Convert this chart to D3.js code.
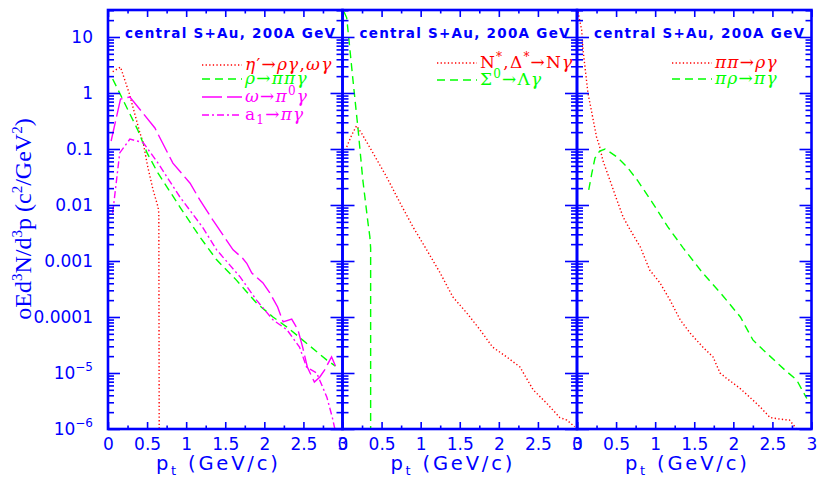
<!DOCTYPE html>
<html><head><meta charset="utf-8">
<script src="https://cdn.jsdelivr.net/npm/d3@7"></script>
<style>body{margin:0;background:#fff}svg{display:block}</style>
</head><body>
<svg id="c" width="817" height="479"></svg>
<script>
// ---------------- data ----------------
const xTickValues = [0, 0.5, 1, 1.5, 2, 2.5, 3];
const xTickLabels = ["0", "0.5", "1", "1.5", "2", "2.5", "3"];
const yTickValues = [10, 1, 0.1, 0.01, 0.001, 0.0001, 1e-5, 1e-6];
const yTickLabels = ["10", "1", "0.1", "0.01", "0.001", "0.0001", "10^-5", "10^-6"];
const panelTitle = "central S+Au, 200A GeV";

// panel 1
const etaPt  = [0.06, 0.16, 0.27, 0.41, 0.45, 0.51, 0.575, 0.64, 0.65, 0.655];
const etaVal = [2.4, 2.9, 1.0, 0.19, 0.13, 0.047, 0.019, 0.0092, 0.0072, 1e-6];
const rhoPt  = [0.06, 0.38, 0.5, 0.64, 0.92, 1.175, 1.39, 1.64, 1.90, 2.11, 2.29, 2.54, 2.80, 2.91];
const rhoVal = [1.78, 0.22, 0.085, 0.037, 0.0092, 0.0027, 0.00105, 0.00046, 0.000178, 1.0e-4, 6.6e-5, 3.4e-5, 1.7e-5, 1.33e-5];
const omgPt  = [0.04, 0.16, 0.28, 0.6, 0.83, 1.05, 1.175, 1.34, 1.60, 1.72, 1.775, 1.84, 1.98, 2.07, 2.17, 2.24, 2.35, 2.43, 2.49, 2.55, 2.64, 2.71, 2.77, 2.86, 2.91];
const omgVal = [0.139, 0.78, 0.85, 0.237, 0.056, 0.0245, 0.0123, 0.0054, 0.00158, 0.00113, 0.00091, 0.00061, 0.00041, 0.00027, 0.000151, 8.2e-5, 9.2e-5, 5.9e-5, 2.9e-5, 1.28e-5, 6.9e-6, 8.5e-6, 1.13e-5, 1.94e-5, 1.33e-5];
const a1Pt   = [0.06, 0.15, 0.28, 0.45, 0.64, 0.92, 1.21, 1.39, 1.69, 1.90, 2.11, 2.29, 2.45, 2.54, 2.67, 2.80, 2.87, 2.91];
const a1Val  = [0.0072, 0.085, 0.15, 0.13, 0.056, 0.0139, 0.0040, 0.00158, 0.00052, 0.0002, 8.9e-5, 5.9e-5, 2.9e-5, 1.28e-5, 1.0e-5, 3.7e-6, 1.6e-6, 9e-7];

// panel 2
const nstPt  = [0.054, 0.118, 0.18, 0.245, 0.39, 0.565, 0.735, 0.90, 1.077, 1.25, 1.41, 1.59, 1.76, 1.92, 2.10, 2.27, 2.44, 2.61, 2.78, 2.87, 2.97];
const nstVal = [0.109, 0.178, 0.26, 0.19, 0.085, 0.0316, 0.011, 0.0041, 0.00158, 0.00061, 0.00023, 0.000118, 5.9e-5, 2.9e-5, 1.94e-5, 1.28e-5, 5.0e-6, 2.9e-6, 1.6e-6, 1.44e-6, 1.1e-6];
const sigPt  = [0.02, 0.054, 0.134, 0.2, 0.26, 0.326, 0.35, 0.36, 0.36];
const sigVal = [28, 22, 1.7, 0.22, 0.028, 0.0048, 0.0027, 0.0017, 1e-6];

// panel 3
const pipiPt  = [0.013, 0.06, 0.077, 0.14, 0.25, 0.29, 0.33, 0.42, 0.51, 0.59, 0.68, 0.81, 0.93, 1.06, 1.19, 1.32, 1.445, 1.61, 1.74, 1.83, 1.91, 2.08, 2.21, 2.34, 2.47, 2.6, 2.72, 2.81];
const pipiVal = [28, 13.3, 5.9, 1.0, 0.164, 0.11, 0.063, 0.028, 0.0123, 0.0061, 0.0036, 0.00178, 0.00069, 0.00041, 0.0002, 8.9e-5, 5.2e-5, 2.9e-5, 1.94e-5, 1.0e-5, 8.1e-6, 5.4e-6, 3.7e-6, 2.5e-6, 1.6e-6, 1.5e-6, 1.44e-6, 1.0e-6];
const pirhoPt  = [0.15, 0.19, 0.23, 0.29, 0.36, 0.40, 0.51, 0.64, 0.77, 0.96, 1.16, 1.36, 1.60, 1.86, 2.09, 2.25, 2.38, 2.66, 2.81, 2.94];
const pirhoVal = [0.0186, 0.037, 0.069, 0.092, 0.1, 0.092, 0.072, 0.048, 0.028, 0.0113, 0.0041, 0.0017, 0.00063, 0.000245, 1.0e-4, 3.9e-5, 2.6e-5, 1.13e-5, 7.5e-6, 3.5e-6];

// legend labels: [text, style]
const lblEta  = [["η","i"],["′","n"],["→","n"],["ργ","i"],[",","n"],["ωγ","i"]];
const lblRho  = [["ρ","i"],["→","n"],["ππγ","i"]];
const lblOmg  = [["ω","i"],["→","n"],["π","i"],["0","sup"],["γ","i"]];
const lblA1   = [["a","n"],["1","sub"],["→","n"],["πγ","i"]];
const lblNst  = [["N","n"],["*","sup"],[",Δ","n"],["*","sup"],["→N","n"],["γ","i"]];
const lblSig  = [["Σ","n"],["0","sup"],["→Λ","n"],["γ","i"]];
const lblPipi = [["ππ","i"],["→","n"],["ργ","i"]];
const lblPirho= [["πρ","i"],["→","n"],["πγ","i"]];

// ---------------- styles / layout ----------------
const BLUE = "#0000ff", RED = "#ff0000", GREEN = "#00ff00", MAG = "#ff00ff";
const styles = {
  dot:    {color: RED,   dash: "1.3,2.3"},
  dash:   {color: GREEN, dash: "8,5"},
  long:   {color: MAG,   dash: "20,5"},
  dashdot:{color: MAG,   dash: "7,3,2,3"}
};
const zip = (a, b) => a.map((v, i) => [v, b[i]]);
const panels = [
  {series: [
    {d: zip(etaPt, etaVal), s: "dot", lbl: lblEta, ly: 65},
    {d: zip(rhoPt, rhoVal), s: "dash", lbl: lblRho, ly: 79},
    {d: zip(omgPt, omgVal), s: "long", lbl: lblOmg, ly: 97},
    {d: zip(a1Pt, a1Val), s: "dashdot", lbl: lblA1, ly: 115}
  ], legX: 94},
  {series: [
    {d: zip(nstPt, nstVal), s: "dot", lbl: lblNst, ly: 63},
    {d: zip(sigPt, sigVal), s: "dash", lbl: lblSig, ly: 80}
  ], legX: 94.5},
  {series: [
    {d: zip(pipiPt, pipiVal), s: "dot", lbl: lblPipi, ly: 63},
    {d: zip(pirhoPt, pirhoVal), s: "dash", lbl: lblPirho, ly: 79}
  ], legX: 95}
];

const yTop = 10, yBot = 429, panelW = 234.5;
const panelLeft = [108, 342.5, 577];
const svg = d3.select("#c");
const y = d3.scaleLog().domain([1e-6, Math.pow(10, 1.482)]).range([yBot, yTop]);

const yMinor = [];
for (let e = -6; e <= 1; e++) for (let k = 2; k <= 9; k++) { const v = k * Math.pow(10, e); if (v < y.domain()[1]) yMinor.push(v); }
const yMajor = [];
for (let e = -6; e <= 1; e++) yMajor.push(Math.pow(10, e));
const xMinor = d3.range(0.25, 3, 0.5);

function styleAxis(g) {
  g.select(".domain").remove();
  g.selectAll("line").attr("stroke", BLUE).attr("stroke-width", 1.6);
}

panels.forEach((p, pi) => {
  const x0 = panelLeft[pi];
  const x = d3.scaleLinear().domain([0, 3]).range([x0, x0 + panelW]);
  const clipId = "clip" + pi;
  svg.append("clipPath").attr("id", clipId).append("rect")
    .attr("x", x0).attr("y", yTop).attr("width", panelW).attr("height", yBot - yTop);

  // curves
  const line = d3.line().x(d => x(d[0])).y(d => y(d[1]));
  const cg = svg.append("g").attr("clip-path", `url(#${clipId})`);
  p.series.forEach(s => {
    const st = styles[s.s];
    cg.append("path").attr("d", line(s.d)).attr("fill", "none")
      .attr("stroke", st.color).attr("stroke-width", 1.4).attr("stroke-dasharray", st.dash);
  });

  // x axes (bottom with labels, top ticks)
  const bx = svg.append("g").attr("transform", `translate(0,${yBot})`)
    .call(d3.axisBottom(x).tickValues(xTickValues).tickSizeInner(-7).tickSizeOuter(0).tickPadding(9)
      .tickFormat((d, i) => xTickLabels[i]));
  styleAxis(bx);
  bx.selectAll("text").attr("fill", BLUE).attr("font-family", "DejaVu Sans").attr("font-size", 17);
  const bxm = svg.append("g").attr("transform", `translate(0,${yBot})`)
    .call(d3.axisBottom(x).tickValues(xMinor).tickSizeInner(-3.5).tickSizeOuter(0).tickFormat(""));
  styleAxis(bxm);
  const tx = svg.append("g").attr("transform", `translate(0,${yTop})`)
    .call(d3.axisTop(x).tickValues(xTickValues).tickSizeInner(-7).tickSizeOuter(0).tickFormat(""));
  styleAxis(tx);
  const txm = svg.append("g").attr("transform", `translate(0,${yTop})`)
    .call(d3.axisTop(x).tickValues(xMinor).tickSizeInner(-3.5).tickSizeOuter(0).tickFormat(""));
  styleAxis(txm);

  // y axes ticks on both sides
  [[d3.axisLeft, x0], [d3.axisRight, x0 + panelW]].forEach(([ax, xx]) => {
    const gM = svg.append("g").attr("transform", `translate(${xx},0)`)
      .call(ax(y).tickValues(yMajor).tickSizeInner(-12).tickSizeOuter(0).tickFormat(""));
    styleAxis(gM);
    const gm = svg.append("g").attr("transform", `translate(${xx},0)`)
      .call(ax(y).tickValues(yMinor).tickSizeInner(-6).tickSizeOuter(0).tickFormat(""));
    styleAxis(gm);
  });

  // frame
  svg.append("rect").attr("x", x0).attr("y", yTop).attr("width", panelW).attr("height", yBot - yTop)
    .attr("fill", "none").attr("stroke", BLUE).attr("stroke-width", 2.6);

  // y labels (first panel only)
  if (pi === 0) {
    const ly = svg.append("g").attr("transform", `translate(${x0},0)`)
      .call(d3.axisLeft(y).tickValues(yTickValues).tickSize(0).tickPadding(15).tickFormat(""));
    ly.select(".domain").remove();
    ly.selectAll(".tick").each(function(d) {
      const i = yTickValues.indexOf(d);
      const lab = yTickLabels[i];
      const t = d3.select(this).select("text").attr("fill", BLUE)
        .attr("font-family", "DejaVu Sans").attr("font-size", 17).attr("dy", "0.34em");
      if (lab.includes("^")) {
        const [b, e] = lab.split("^");
        t.append("tspan").text(b);
        t.append("tspan").text(e.replace("-", "−")).attr("font-size", 12).attr("dy", -8);
      } else t.text(lab);
    });
  }

  // panel title
  svg.append("text").attr("x", x0 + 17).attr("y", 38)
    .attr("font-family", "DejaVu Sans").attr("font-weight", "bold").attr("font-size", 13.5)
    .attr("fill", BLUE).attr("textLength", 210).attr("lengthAdjust", "spacing").text(panelTitle);

  // legend
  p.series.forEach(s => {
    const st = styles[s.s];
    const lx = x0 + p.legX;
    svg.append("line").attr("x1", lx).attr("x2", lx + 40).attr("y1", s.ly).attr("y2", s.ly)
      .attr("stroke", st.color).attr("stroke-width", 1.4).attr("stroke-dasharray", st.dash);
    const t = svg.append("text").attr("x", lx + 43).attr("y", s.ly + 5)
      .attr("font-family", "DejaVu Serif").attr("font-size", 17).attr("letter-spacing", 1.2)
      .attr("fill", st.color);
    let shift = 0;
    s.lbl.forEach(([txt, kind]) => {
      const ts = t.append("tspan").text(txt);
      let target = 0;
      if (kind === "i") ts.attr("font-style", "italic");
      if (kind === "sup") { ts.attr("font-size", 12); target = -7; }
      if (kind === "sub") { ts.attr("font-size", 12); target = 4; }
      if (target !== shift) { ts.attr("dy", target - shift); shift = target; }
    });
  });

  // x title
  const xt = svg.append("text").attr("x", x0 + panelW / 2 - 7).attr("y", 470)
    .attr("text-anchor", "middle").attr("font-family", "DejaVu Sans").attr("font-size", 19.5)
    .attr("fill", BLUE).attr("letter-spacing", 2.8);
  xt.append("tspan").text("p");
  xt.append("tspan").text("t").attr("font-size", 13).attr("dy", 5);
  xt.append("tspan").text(" (GeV/c)").attr("dy", -5);
});

// y title
const yt = svg.append("text").attr("transform", "translate(31,219) rotate(-90)")
  .attr("text-anchor", "middle").attr("font-family", "Liberation Serif").attr("font-size", 24)
  .attr("fill", BLUE);
[["oEd",0],["3",1],["N/d",0],["3",1],["p (c",0],["2",1],["/GeV",0],["2",1],[")",0]].forEach(([s, sup], i, arr) => {
  const ts = yt.append("tspan").text(s);
  if (sup) ts.attr("font-size", 15).attr("dy", -9);
  else if (i > 0 && arr[i - 1][1]) ts.attr("dy", 9);
});
</script>
</body></html>
